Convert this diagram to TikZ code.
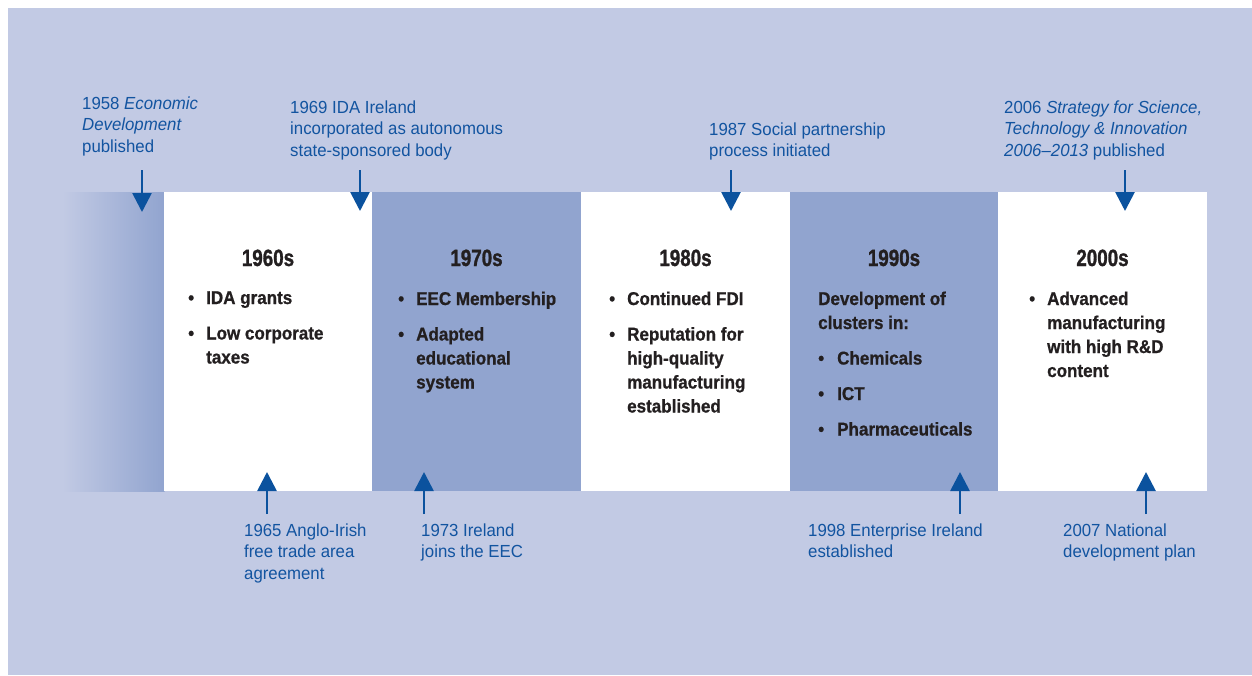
\documentclass[tikz,border=0pt]{standalone}
\usepackage{fontspec}
\setmainfont{Liberation Sans}
\newfontfamily\evfont[FakeStretch=0.96]{Liberation Sans}
\newfontfamily\bodyfont[FakeStretch=0.92,FakeBold=0.8]{Liberation Sans}
\newfontfamily\headfont[FakeStretch=0.8,FakeBold=1.2]{Liberation Sans}
\usetikzlibrary{arrows.meta}
\definecolor{bgc}{RGB}{194,202,228}
\definecolor{panelc}{RGB}{145,164,207}
\definecolor{evblue}{RGB}{18,84,160}
\definecolor{arrowc}{RGB}{11,82,158}
\definecolor{bodyc}{RGB}{35,31,32}
\newcommand\bitem[2][18pt]{\hangindent=#1\hangafter=1\noindent\makebox[#1][l]{\textbullet}#2\par}
\newcommand\itemgap{\vspace{11.5pt}}
\tikzset{
  panel/.style={minimum width=209pt,minimum height=299pt,inner sep=0pt,draw=none},
  darkpanel/.style={panel,fill=panelc},
  lightpanel/.style={panel,fill=white},
  head/.style={anchor=base,inner sep=0pt,text=bodyc,font=\headfont\bfseries\fontsize{23.5}{28}\selectfont},
  body/.style={anchor=base west,inner sep=0pt,text=bodyc,font=\bodyfont\bfseries\fontsize{18.5}{24}\selectfont},
  evtext/.style={anchor=base west,inner sep=0pt,text=evblue,font=\evfont\fontsize{17.5}{21.5}\selectfont},
  evarrow/.style={draw=arrowc,line width=2.7pt,-{Triangle[width=19pt,length=19pt]}}
}
\begin{document}
\begin{tikzpicture}[x=1pt,y=-1pt]
\useasboundingbox (0,0) rectangle (1252,675);
\fill[bgc] (8,8) rectangle (1252,675);
\shade[left color=bgc,right color=panelc] (62,192) rectangle (164.5,491);
% panels
\node[lightpanel] (p60) at (268,341.5) {};
\node[darkpanel]  (p70) at (476.5,341.5) {};
\node[lightpanel] (p80) at (685.5,341.5) {};
\node[darkpanel]  (p90) at (894,341.5) {};
\node[lightpanel] (p00) at (1102.5,341.5) {};
% headings
\node[head] (h60) at (268,266) {1960s};
\node[head] (h70) at (476.5,266) {1970s};
\node[head] (h80) at (685.5,266) {1980s};
\node[head] (h90) at (894,266) {1990s};
\node[head] (h00) at (1102.5,266) {2000s};
% bullet texts
\node[body] (b60) at (188,304) {\parbox[t]{180pt}{\raggedright
  \bitem{IDA grants}\itemgap
  \bitem{Low corporate\newline taxes}}};
\node[body] (b70) at (398,305) {\parbox[t]{180pt}{\raggedright
  \bitem{EEC Membership}\itemgap
  \bitem{Adapted\newline educational\newline system}}};
\node[body] (b80) at (609,305) {\parbox[t]{180pt}{\raggedright
  \bitem{Continued FDI}\itemgap
  \bitem{Reputation for\newline high-quality\newline manufacturing\newline established}}};
\node[body] (b90) at (818,305) {\parbox[t]{180pt}{\raggedright
  \noindent Development of\newline clusters in:\par\itemgap
  \bitem[19pt]{Chemicals}\itemgap
  \bitem[19pt]{ICT}\itemgap
  \bitem[19pt]{Pharmaceuticals}}};
\node[body] (b00) at (1029,305) {\parbox[t]{180pt}{\raggedright
  \bitem{Advanced\newline manufacturing\newline with high R\&D\newline content}}};
% event labels (top)
\node[evtext] (e58) at (82,109) {\parbox[t]{200pt}{\raggedright 1958 \textit{Economic}\\\textit{Development}\\published}};
\node[evtext] (e69) at (290,113) {\parbox[t]{260pt}{\raggedright 1969 IDA Ireland\\incorporated as autonomous\\state-sponsored body}};
\node[evtext] (e87) at (709,135) {\parbox[t]{260pt}{\raggedright 1987 Social partnership\\process initiated}};
\node[evtext] (e06) at (1004,113) {\parbox[t]{245pt}{\raggedright 2006 \textit{Strategy for Science,}\\\textit{Technology \& Innovation}\\\textit{2006\textendash 2013} published}};
% event labels (bottom)
\node[evtext] (e65) at (244,536) {\parbox[t]{200pt}{\raggedright 1965 Anglo-Irish\\free trade area\\agreement}};
\node[evtext] (e73) at (421,536) {\parbox[t]{200pt}{\raggedright 1973 Ireland\\joins the EEC}};
\node[evtext] (e98) at (808,536) {\parbox[t]{240pt}{\raggedright 1998 Enterprise Ireland\\established}};
\node[evtext] (e07) at (1063,536) {\parbox[t]{200pt}{\raggedright 2007 National\\development plan}};
% arrow end points
\coordinate (a58s) at (142,170);  \coordinate (a58e) at (142,212);
\coordinate (a69s) at (360,170);  \coordinate (a69e) at (360,211);
\coordinate (a87s) at (731,170);  \coordinate (a87e) at (731,211);
\coordinate (a06s) at (1125,170); \coordinate (a06e) at (1125,211);
\coordinate (a65s) at (267,514);  \coordinate (a65e) at (267,472);
\coordinate (a73s) at (424,514);  \coordinate (a73e) at (424,472);
\coordinate (a98s) at (960,514);  \coordinate (a98e) at (960,472);
\coordinate (a07s) at (1146,514); \coordinate (a07e) at (1146,472);
\draw[evarrow] (a58s) -- (a58e);
\draw[evarrow] (a69s) -- (a69e);
\draw[evarrow] (a87s) -- (a87e);
\draw[evarrow] (a06s) -- (a06e);
\draw[evarrow] (a65s) -- (a65e);
\draw[evarrow] (a73s) -- (a73e);
\draw[evarrow] (a98s) -- (a98e);
\draw[evarrow] (a07s) -- (a07e);
\end{tikzpicture}
\end{document}
